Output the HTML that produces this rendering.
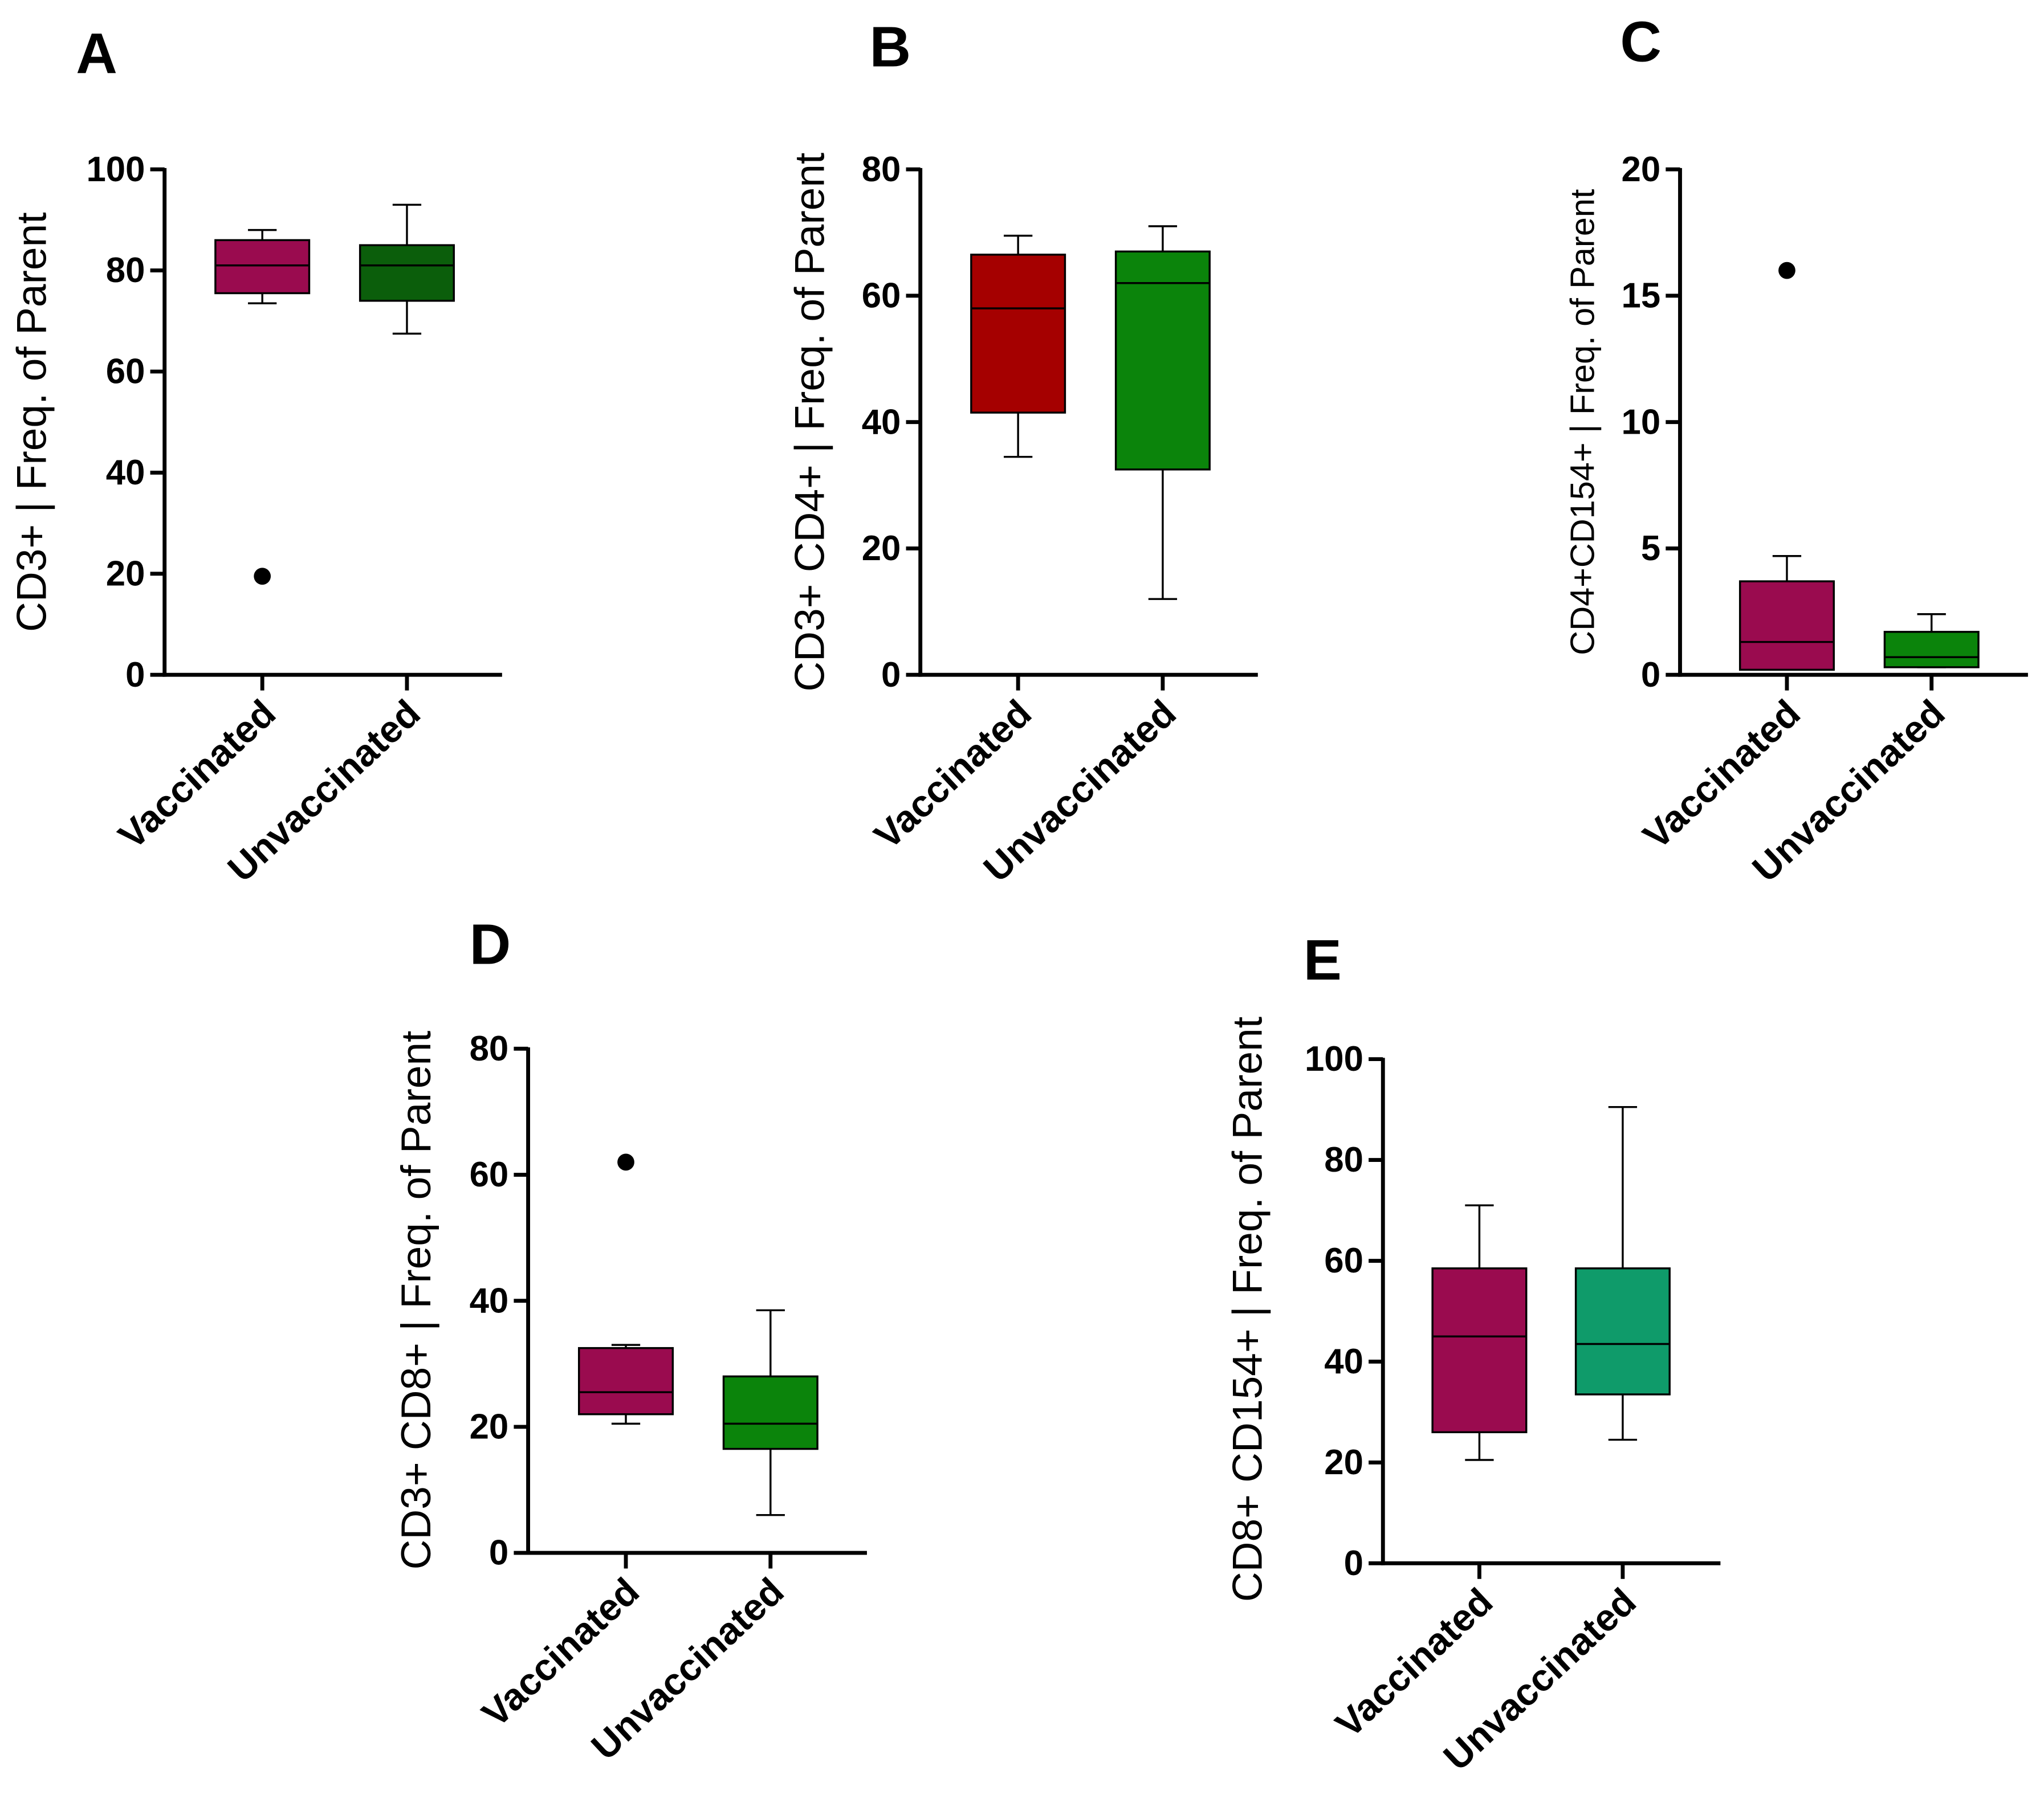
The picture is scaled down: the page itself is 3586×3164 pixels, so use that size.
<!DOCTYPE html>
<html><head><meta charset="utf-8">
<style>
html,body{margin:0;padding:0;background:#fff;}
svg{display:block;}
text{font-family:"Liberation Sans",Arial,sans-serif;fill:#000;}
</style></head>
<body>
<svg id="chart" width="3586" height="3164" viewBox="0 0 1568 1384" xmlns="http://www.w3.org/2000/svg"></svg>
<script>
const categories = ["Vaccinated","Unvaccinated"];
// Panel A
const aTicks = [0,20,40,60,80,100];
const aWhiskLo = [73.5,67.5], aQ1 = [75.5,74], aMed = [81,81], aQ3 = [86,85], aWhiskHi = [88,93];
const aOutliers = [[19.5],[]];
// Panel B
const bTicks = [0,20,40,60,80];
const bWhiskLo = [34.5,12], bQ1 = [41.5,32.5], bMed = [58,62], bQ3 = [66.5,67], bWhiskHi = [69.5,71];
const bOutliers = [[],[]];
// Panel C
const cTicks = [0,5,10,15,20];
const cWhiskLo = [0.2,0.3], cQ1 = [0.2,0.3], cMed = [1.3,0.7], cQ3 = [3.7,1.7], cWhiskHi = [4.7,2.4];
const cOutliers = [[16],[]];
// Panel D
const dTicks = [0,20,40,60,80];
const dWhiskLo = [20.5,6], dQ1 = [22,16.5], dMed = [25.5,20.5], dQ3 = [32.5,28], dWhiskHi = [33,38.5];
const dOutliers = [[62],[]];
// Panel E
const eTicks = [0,20,40,60,80,100];
const eWhiskLo = [20.5,24.5], eQ1 = [26,33.5], eMed = [45,43.5], eQ3 = [58.5,58.5], eWhiskHi = [71,90.5];
const eOutliers = [[],[]];

const NS = "http://www.w3.org/2000/svg";
const svg = document.getElementById('chart');
function el(tag, attrs, parent){
  const e = document.createElementNS(NS, tag);
  for (const k in attrs) e.setAttribute(k, attrs[k]);
  (parent||svg).appendChild(e); return e;
}
function panel(cfg){
  const g = el('g', {});
  
  
  const ymax = cfg.ticks[cfg.ticks.length-1];
  const ys = v => cfg.y0 - (v/ymax)*(cfg.y0-cfg.y1);
  const L = el('text', {x:cfg.lx, y:cfg.ly, 'font-size':44, 'font-weight':'bold'}, g);
  L.textContent = cfg.letter;
  
  
  const ax = el('line', {x1:cfg.ax, y1:cfg.y1-1, x2:cfg.ax, y2:cfg.y0+1.5, stroke:'#000','stroke-width':3}, g);
  
  
  const xx = el('line', {x1:cfg.ax-1.5, y1:cfg.y0, x2:cfg.xend, y2:cfg.y0, stroke:'#000','stroke-width':3}, g);
  
  
  cfg.ticks.forEach(t=>{
    el('line', {x1:cfg.ax-11, y1:ys(t), x2:cfg.ax, y2:ys(t), stroke:'#000','stroke-width':3}, g);
    const tl = el('text', {x:cfg.ax-15, y:ys(t)+9, 'font-size':27, 'font-weight':'bold','text-anchor':'end'}, g);
    tl.textContent = t;
    
    
  });
  const yt = el('text', {x:0, y:0, 'font-size':cfg.tsize, 'text-anchor':'middle', transform:`translate(${cfg.tx},${cfg.ty}) rotate(-90)`}, g);
  yt.textContent = cfg.title;
  
  
  const hw = 36;
  categories.forEach((c,i)=>{
    const x = cfg.xs[i];
    el('line', {x1:x, y1:cfg.y0, x2:x, y2:cfg.y0+12, stroke:'#000','stroke-width':3}, g);
    const xl = el('text', {x:0, y:0, 'font-size':29, 'font-weight':'bold', 'text-anchor':'end', transform:`translate(${x+12},${cfg.y0+32}) rotate(-43)`}, g);
    xl.textContent = c;
    
    
    const wl = el('line', {x1:x, y1:ys(cfg.lo[i]), x2:x, y2:ys(cfg.q1[i]), stroke:'#000','stroke-width':1.5}, g);
    
    
    const wh = el('line', {x1:x, y1:ys(cfg.hi[i]), x2:x, y2:ys(cfg.q3[i]), stroke:'#000','stroke-width':1.5}, g);
    
    
    [cfg.lo[i], cfg.hi[i]].forEach(v=>{
      el('line', {x1:x-11, y1:ys(v), x2:x+11, y2:ys(v), stroke:'#000','stroke-width':1.5}, g);
    });
    const b = el('rect', {x:x-hw, y:ys(cfg.q3[i]), width:hw*2, height:Math.max(0.5, ys(cfg.q1[i])-ys(cfg.q3[i])), fill:cfg.colors[i], stroke:'#000','stroke-width':1.5}, g);
    
    
    const m = el('line', {x1:x-hw, y1:ys(cfg.med[i]), x2:x+hw, y2:ys(cfg.med[i]), stroke:'#000','stroke-width':1.5}, g);
    
    
    cfg.out[i].forEach(v=>{
      const p = el('circle', {cx:x, cy:ys(v), r:6.5, fill:'#000'}, g);
      
      
    });
  });
}
const MAG = '#9a0b4f';
panel({letter:'A', lx:58, ly:56, ax:126, y0:518, y1:130, xend:385, xs:[201,312], ticks:aTicks,
  lo:aWhiskLo,q1:aQ1,med:aMed,q3:aQ3,hi:aWhiskHi,out:aOutliers, colors:[MAG,'#0b5e0b'],
  title:'CD3+ | Freq. of Parent', tx:35, ty:324, tsize:32});
panel({letter:'B', lx:667, ly:51, ax:706, y0:518, y1:130, xend:965, xs:[781,892], ticks:bTicks,
  lo:bWhiskLo,q1:bQ1,med:bMed,q3:bQ3,hi:bWhiskHi,out:bOutliers, colors:['#a50000','#0b840b'],
  title:'CD3+ CD4+ | Freq. of Parent', tx:632, ty:324, tsize:32});
panel({letter:'C', lx:1243, ly:47, ax:1289, y0:518, y1:130, xend:1556, xs:[1371,1482], ticks:cTicks,
  lo:cWhiskLo,q1:cQ1,med:cMed,q3:cQ3,hi:cWhiskHi,out:cOutliers, colors:[MAG,'#0b840b'],
  title:'CD4+CD154+ | Freq. of Parent', tx:1223, ty:324, tsize:26});
panel({letter:'D', lx:360, ly:740, ax:405, y0:1192, y1:805, xend:665, xs:[480,591], ticks:dTicks,
  lo:dWhiskLo,q1:dQ1,med:dMed,q3:dQ3,hi:dWhiskHi,out:dOutliers, colors:[MAG,'#0b840b'],
  title:'CD3+ CD8+ | Freq. of Parent', tx:330, ty:998, tsize:32});
panel({letter:'E', lx:1000, ly:752, ax:1061, y0:1200, y1:813, xend:1320, xs:[1135,1245], ticks:eTicks,
  lo:eWhiskLo,q1:eQ1,med:eMed,q3:eQ3,hi:eWhiskHi,out:eOutliers, colors:[MAG,'#0f9b6a'],
  title:'CD8+ CD154+ | Freq. of Parent', tx:968, ty:1005, tsize:32});
</script>
</body></html>
